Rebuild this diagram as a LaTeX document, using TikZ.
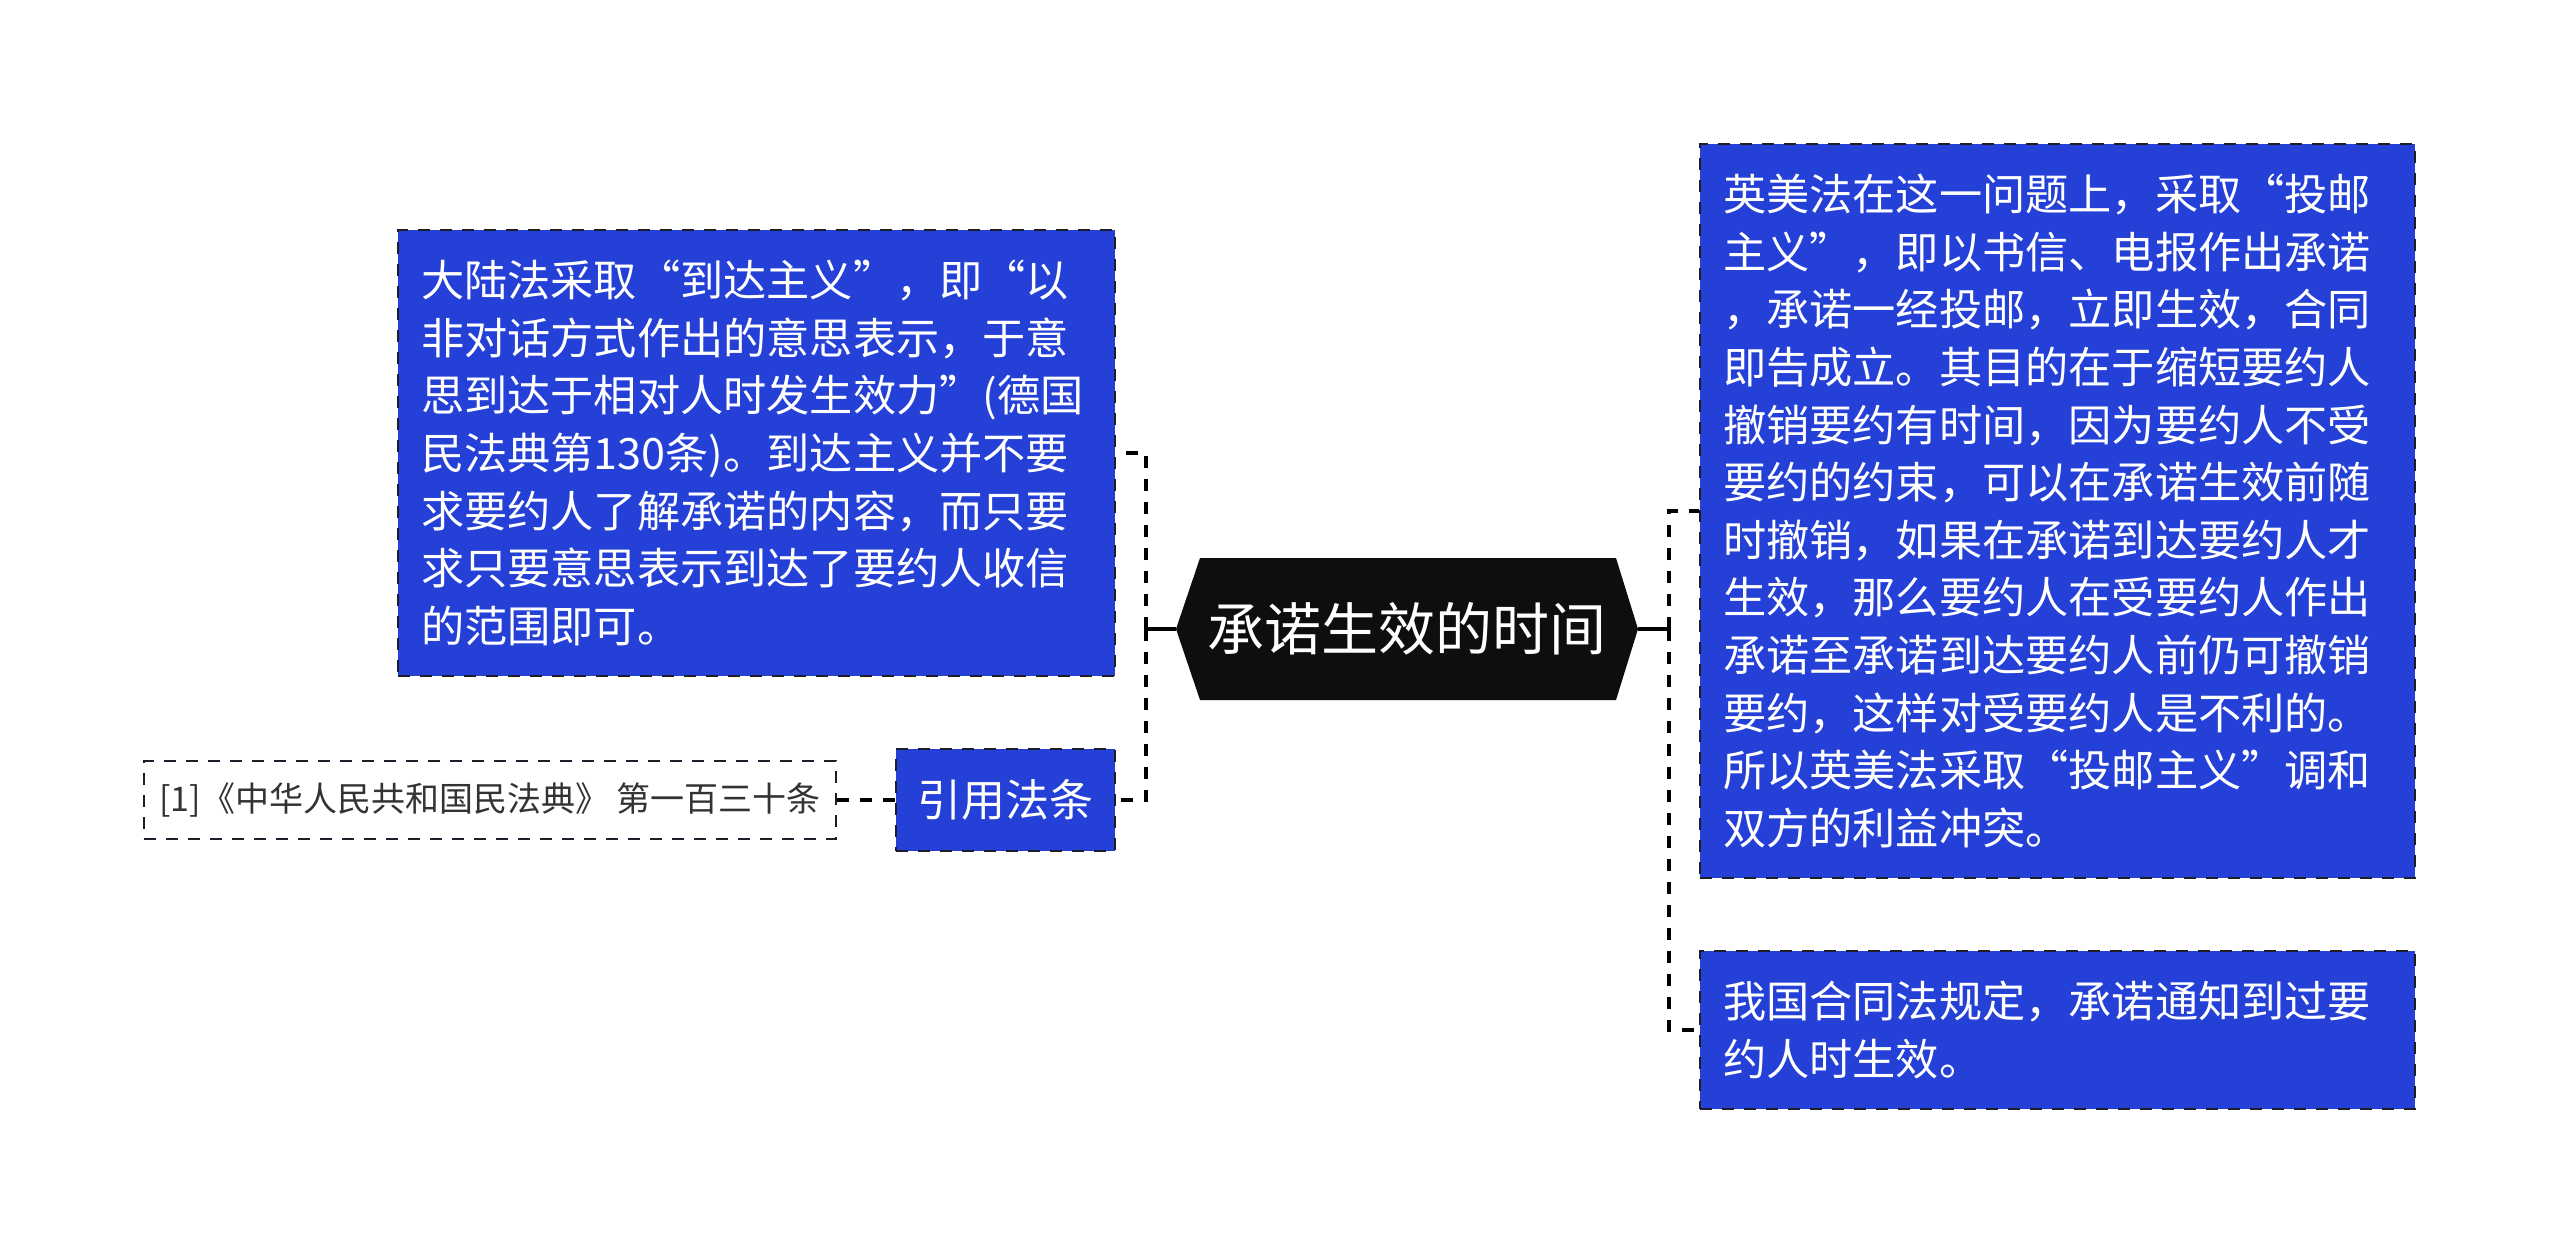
\documentclass[tikz,border=0pt]{standalone}
\usepackage{fontspec}
\newfontfamily\cjk{Noto Sans CJK SC}
\definecolor{boxblue}{HTML}{2440D6}
\definecolor{boxborder}{HTML}{1E1E2A}
\definecolor{hexfill}{HTML}{0E0E0E}
\definecolor{reftext}{HTML}{333333}
\tikzset{
  bluebox/.style={draw=boxborder, line width=1.2pt, dash pattern=on 6pt off 5pt,
    fill=boxblue, text=white, font=\cjk\fontsize{21.6}{28.8}\selectfont,
    align=left, inner xsep=11.5pt, inner ysep=0pt, anchor=center},
  refbox/.style={draw=boxborder, line width=1.2pt, dash pattern=on 6pt off 5pt,
    fill=white, text=reftext, font=\cjk\fontsize{17}{20}\selectfont,
    align=center, inner sep=0pt, anchor=center},
  conn/.style={draw=black, line width=2pt},
  dconn/.style={draw=black, line width=2pt, dash pattern=on 6pt off 5.5pt},
}
\begin{document}
\begin{tikzpicture}[x=0.5pt,y=-0.5pt]
\useasboundingbox[fill=white] (0,0) rectangle (2560,1254);

% central hexagon
\coordinate (hexL) at (1176,629);
\coordinate (hexR) at (1638,629);
\coordinate (hexTL) at (1200,558);
\coordinate (hexTR) at (1616,558);
\coordinate (hexBR) at (1616,700);
\coordinate (hexBL) at (1200,700);
\fill[hexfill] (hexL) -- (hexTL) -- (hexTR) -- (hexR) -- (hexBR) -- (hexBL) -- cycle;
\node[text=white, font=\cjk\fontsize{28.5}{32}\selectfont, inner sep=0pt] (c) at (1407,629) {承诺生效的时间};

% left nodes
\node[bluebox, text width=335.5pt, minimum height=223pt] (lb1) at (756.5,453)
  {大陆法采取“到达主义”，即“以\\非对话方式作出的意思表示，于意\\思到达于相对人时发生效力”(德国\\民法典第130条)。到达主义并不要\\求要约人了解承诺的内容，而只要\\求只要意思表示到达了要约人收信\\的范围即可。};
\node[bluebox, align=center, inner xsep=0pt, minimum width=109.5pt, minimum height=51pt,
  font=\cjk\fontsize{22}{26}\selectfont] (cite) at (1005.5,800) {引用法条};
\node[refbox, minimum width=346pt, minimum height=39pt] (ref) at (490,800)
  {[1]《中华人民共和国民法典》 第一百三十条};

% right nodes
\node[bluebox, text width=334.5pt, minimum height=367pt] (rb1) at (2057.5,511)
  {英美法在这一问题上，采取“投邮\\主义”，即以书信、电报作出承诺\\，承诺一经投邮，立即生效，合同\\即告成立。其目的在于缩短要约人\\撤销要约有时间，因为要约人不受\\要约的约束，可以在承诺生效前随\\时撤销，如果在承诺到达要约人才\\生效，那么要约人在受要约人作出\\承诺至承诺到达要约人前仍可撤销\\要约，这样对受要约人是不利的。\\所以英美法采取“投邮主义”调和\\双方的利益冲突。};
\node[bluebox, text width=334.5pt, minimum height=79pt] (rb2) at (2057.5,1030)
  {我国合同法规定，承诺通知到过要\\约人时生效。};

% connectors
\coordinate (jl) at (1146,629);
\coordinate (jr) at (1669,629);
\draw[conn] (hexL) -- (jl);
\draw[conn] (hexR) -- (jr);
\draw[dconn] (jl) |- (lb1.east);
\draw[dconn] (jl) |- (cite.east);
\draw[dconn] (jr) |- (rb1.west);
\draw[dconn] (jr) |- (rb2.west);
\draw[dconn] (cite.west) -- (ref.east);
\end{tikzpicture}
\end{document}
